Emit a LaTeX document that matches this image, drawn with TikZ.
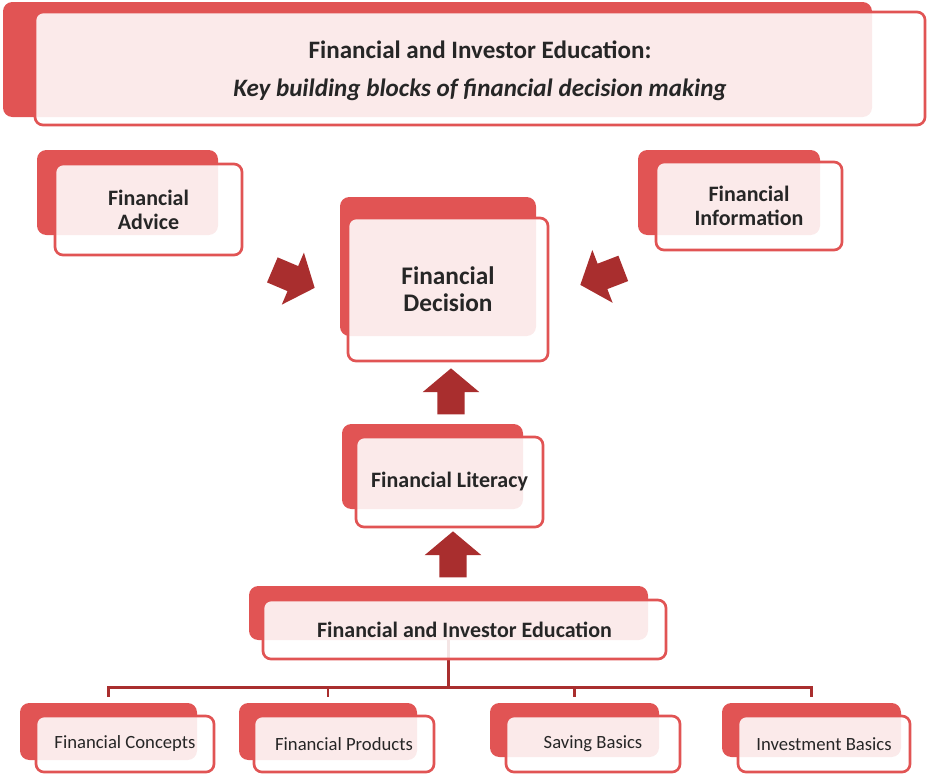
\documentclass[tikz,border=0pt]{standalone}
\usepackage{fontspec}
\setmainfont{Carlito}
\usetikzlibrary{fit}
\usetikzlibrary{shapes.arrows}
\definecolor{blockred}{HTML}{E15454}
\definecolor{arrowred}{HTML}{A92E2E}
\definecolor{inkgray}{HTML}{262626}

\begin{document}
\begin{tikzpicture}
[x=0.75pt,y=-0.75pt,%
  back/.style={fill=blockred,draw=none,rounded corners=7pt,inner sep=0pt},%
  front/.style={draw=blockred,line width=2pt,fill=white,fill opacity=0.88,
    rounded corners=6pt,inner sep=0pt},%
  boxtext/.style={inner sep=0pt,text=inkgray,align=center,
    font=\bfseries\fontsize{16.5}{18}\selectfont},%
  leaftext/.style={boxtext,font=\fontsize{14}{16}\selectfont},%
  bigarrow/.style={single arrow,fill=arrowred,draw=none,inner xsep=0pt,inner ysep=10pt,
    minimum height=34.5pt,single arrow head extend=11pt,
    single arrow tip angle=100,anchor=tip},%
  treeline/.style={draw=arrowred,line width=2.2pt}]
\useasboundingbox (0,0) rectangle (927,775);
%%
\node[back,fit={(3,2) (872,117)}] (titleB) {};
\node[back,fit={(37,150) (218,235)}] (adviceB) {};
\node[back,fit={(638,150) (820,235)}] (infoB) {};
\node[back,fit={(340,197) (536,336)}] (decisionB) {};
\node[back,fit={(342,424) (523,509)}] (literacyB) {};
\node[back,fit={(249,586) (648,640)}] (educB) {};
\node[back,fit={(20,703) (197,760)}] (conceptsB) {};
\node[back,fit={(239,703) (417,760)}] (productsB) {};
\node[back,fit={(490,703) (659,757)}] (savingB) {};
\node[back,fit={(722,703) (901,757)}] (investB) {};
%%
\draw[treeline] (educB.south) -- ++(0,47) coordinate (fork);
\foreach \leafNode in {conceptsB,productsB,savingB,investB}
{
  \draw[treeline,shorten >=4pt] (fork) -| (\leafNode.north);
}
%%
\node[front,fit={(35,12) (925,125)}] (title) {};
\node[front,fit={(55,164) (242,255)}] (advice) {};
\node[front,fit={(656,162) (842,250)}] (info) {};
\node[front,fit={(348,218) (548,361)}] (decision) {};
\node[front,fit={(356,437) (543,527)}] (literacy) {};
\node[front,fit={(263,600) (666,659)}] (educ) {};
\node[front,fit={(36,716) (214,772)}] (concepts) {};
\node[front,fit={(254,716) (434,772)}] (products) {};
\node[front,fit={(506,716) (680,772)}] (saving) {};
\node[front,fit={(738,716) (910,772)}] (invest) {};
%%
\node[boxtext,font=\bfseries\fontsize{18.8}{22}\selectfont] (titleT) at ([yshift=-2pt]title)
  {Financial and Investor Education:\\[6.5pt]{\itshape Key building blocks of financial decision making}};
\node[boxtext] (adviceT) at (advice) {Financial\\Advice};
\node[boxtext] (infoT) at (info) {Financial\\Information};
\node[boxtext,font=\bfseries\fontsize{19}{20}\selectfont] (decisionT) at (decision)
  {Financial\\Decision};
\node[boxtext] (literacyT) at (literacy) {Financial Literacy};
\node[boxtext] (educT) at (educ) {Financial and Investor Education};
\node[leaftext] (conceptsT) at (concepts) {Financial Concepts};
\node[leaftext] (productsT) at (products) {Financial Products};
\node[leaftext] (savingT) at (saving) {Saving Basics};
\node[leaftext] (investT) at (invest) {Investment Basics};
%%
\node[bigarrow,rotate=90] (upTop) at (451,368) {};
\node[bigarrow,rotate=90] (upBottom) at (453,531) {};
\node[bigarrow,rotate=-23] (fromAdvice) at (315,288) {};
\node[bigarrow,rotate=201] (fromInfo) at (580,285) {};
\end{tikzpicture}
\end{document}
